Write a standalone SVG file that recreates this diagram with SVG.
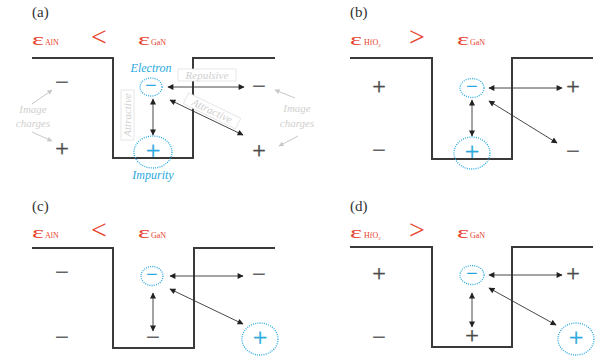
<svg xmlns="http://www.w3.org/2000/svg" width="612" height="362" viewBox="0 0 612 362">
<defs>
<marker id="ah" viewBox="0 0 10 10" refX="9" refY="5" markerWidth="7" markerHeight="6" markerUnits="userSpaceOnUse" orient="auto-start-reverse"><path d="M0,0 L10,5 L0,10 z" fill="#222"/></marker>
<marker id="gh" viewBox="0 0 10 10" refX="9" refY="5" markerWidth="6" markerHeight="5" markerUnits="userSpaceOnUse" orient="auto"><path d="M0,0 L10,5 L0,10 z" fill="#c8c8c8"/></marker>
<style>
.well{fill:none;stroke:#3a3a3a;stroke-width:2}
.arr{fill:none;stroke:#333;stroke-width:0.9;marker-start:url(#ah);marker-end:url(#ah)}
.sign{font-family:"Liberation Serif",serif;font-size:24px;fill:#4a4a4a;stroke:#4a4a4a;stroke-width:0.4;text-anchor:middle}
.csign{font-family:"Liberation Serif",serif;fill:#29a9e0;stroke:#29a9e0;stroke-width:0.3;text-anchor:middle}
.dot{fill:none;stroke:#29a9e0;stroke-width:1.3;stroke-dasharray:1 1.2}
.eps{font-family:"Liberation Serif",serif;fill:#e8412c}
.lab{font-family:"Liberation Serif",serif;font-size:15px;fill:#333}
.ghost{font-family:"Liberation Serif",serif;font-style:italic;font-size:11px;fill:#cfcfcf;text-anchor:middle}
.gbox{fill:#fff;stroke:#e2e2e2;stroke-width:0.8}
.garr{fill:none;stroke:#c8c8c8;stroke-width:1;marker-end:url(#gh)}
.cyan{font-family:"Liberation Serif",serif;font-style:italic;font-size:12px;fill:#29a9e0;text-anchor:middle}
</style>
</defs>

<!-- Panel (a) -->
<g id="panel-a">
<text class="lab" x="32" y="17">(a)</text>
<text class="eps" x="32" y="45" font-size="17" textLength="12" lengthAdjust="spacingAndGlyphs">ε</text>
<text class="eps" x="45" y="45" font-size="8">AlN</text>
<text class="eps" x="91" y="46" font-size="28">&lt;</text>
<text class="eps" x="138" y="45" font-size="17" textLength="12" lengthAdjust="spacingAndGlyphs">ε</text>
<text class="eps" x="151" y="45" font-size="8">GaN</text>
<path class="well" d="M32,58 H113 V158 H193 V58 H275"/>
</g>
<g id="a-ghost">
<rect class="gbox" x="178" y="69" width="58" height="12"/>
<text class="ghost" x="207" y="78.5" font-size="10">Repulsive</text>
<rect class="gbox" x="121" y="90" width="13" height="50"/>
<text class="ghost" x="0" y="0" font-size="10" transform="translate(131,115) rotate(-90)">Attractive</text>
<g transform="translate(212,111) rotate(26)">
<rect class="gbox" x="-29" y="-6" width="58" height="12"/>
<text class="ghost" x="0" y="3.5" font-size="10">Attractive</text>
</g>
<text class="ghost" x="33" y="113" font-size="12">Image</text>
<text class="ghost" x="33" y="127" font-size="12">charges</text>
<text class="ghost" x="297" y="112" font-size="12">Image</text>
<text class="ghost" x="297" y="127" font-size="12">charges</text>
<path class="garr" d="M32,104 L52,90"/>
<path class="garr" d="M32,132 L52,141"/>
<path class="garr" d="M295,98 L275,90"/>
<path class="garr" d="M298,136 L279,146"/>
</g>
<g id="a-electron">
<text class="cyan" x="151" y="72">Electron</text>
<ellipse class="dot" cx="151" cy="87" rx="11" ry="9"/>
<text class="csign" x="151" y="92" font-size="20">−</text>
</g>
<g id="a-impurity">
<ellipse class="dot" cx="153" cy="152" rx="19" ry="16"/>
<text class="csign" x="153" y="159" font-size="26">+</text>
<text class="cyan" x="153" y="179">Impurity</text>
</g>
<g id="a-charges">
<text class="sign" x="62" y="90">−</text>
<text class="sign" x="62" y="156">+</text>
<text class="sign" x="259" y="94">−</text>
<text class="sign" x="259" y="158">+</text>
</g>

<!-- Panel (b) -->
<g id="panel-b">
<text class="lab" x="350" y="17">(b)</text>
<text class="eps" x="350" y="45" font-size="17" textLength="12" lengthAdjust="spacingAndGlyphs">ε</text>
<text class="eps" x="364" y="45" font-size="8">HfO<tspan font-size="5" dy="1.5">2</tspan></text>
<text class="eps" x="409" y="46" font-size="28">&gt;</text>
<text class="eps" x="457" y="45" font-size="17" textLength="12" lengthAdjust="spacingAndGlyphs">ε</text>
<text class="eps" x="470" y="45" font-size="8">GaN</text>
<path class="well" d="M350,58 H432 V159 H512 V58 H593"/>
</g>
<g id="b-electron">
<ellipse class="dot" cx="472" cy="88" rx="12" ry="9.5"/>
<text class="csign" x="472" y="93" font-size="20">−</text>
</g>
<g id="b-impurity">
<ellipse class="dot" cx="472" cy="153" rx="18" ry="16"/>
<text class="csign" x="472" y="160" font-size="26">+</text>
</g>
<g id="b-charges">
<text class="sign" x="379" y="94">+</text>
<text class="sign" x="379" y="158">−</text>
<text class="sign" x="573" y="94">+</text>
<text class="sign" x="573" y="159">−</text>
</g>

<!-- Panel (c) -->
<g id="panel-c">
<text class="lab" x="32" y="211">(c)</text>
<text class="eps" x="32" y="238" font-size="17" textLength="12" lengthAdjust="spacingAndGlyphs">ε</text>
<text class="eps" x="45" y="238" font-size="8">AlN</text>
<text class="eps" x="91" y="239" font-size="28">&lt;</text>
<text class="eps" x="138" y="238" font-size="17" textLength="12" lengthAdjust="spacingAndGlyphs">ε</text>
<text class="eps" x="151" y="238" font-size="8">GaN</text>
<path class="well" d="M32,248 H113 V348 H194 V248 H275"/>
</g>
<g id="c-electron">
<ellipse class="dot" cx="152" cy="276" rx="11" ry="9.5"/>
<text class="csign" x="152" y="281" font-size="20">−</text>
</g>
<g id="c-impurity">
<ellipse class="dot" cx="260" cy="339" rx="18" ry="16"/>
<text class="csign" x="260" y="346" font-size="26">+</text>
</g>
<g id="c-charges">
<text class="sign" x="62" y="280">−</text>
<text class="sign" x="62" y="345">−</text>
<text class="sign" x="153" y="345">−</text>
<text class="sign" x="259" y="282">−</text>
</g>

<!-- Panel (d) -->
<g id="panel-d">
<text class="lab" x="350" y="211">(d)</text>
<text class="eps" x="350" y="238" font-size="17" textLength="12" lengthAdjust="spacingAndGlyphs">ε</text>
<text class="eps" x="364" y="238" font-size="8">HfO<tspan font-size="5" dy="1.5">2</tspan></text>
<text class="eps" x="409" y="239" font-size="28">&gt;</text>
<text class="eps" x="457" y="238" font-size="17" textLength="12" lengthAdjust="spacingAndGlyphs">ε</text>
<text class="eps" x="470" y="238" font-size="8">GaN</text>
<path class="well" d="M350,247 H432 V347 H512 V247 H593"/>
</g>
<g id="d-electron">
<ellipse class="dot" cx="472" cy="275" rx="12" ry="9.5"/>
<text class="csign" x="472" y="280" font-size="20">−</text>
</g>
<g id="d-impurity">
<ellipse class="dot" cx="576" cy="339" rx="18" ry="16"/>
<text class="csign" x="576" y="346" font-size="26">+</text>
</g>
<g id="d-charges">
<text class="sign" x="379" y="281">+</text>
<text class="sign" x="379" y="345">−</text>
<text class="sign" x="573" y="281">+</text>
<text class="sign" x="472" y="343">+</text>
</g>

<!-- Connectors -->
<g id="connectors">
<path class="arr" d="M168,87 L244,87"/>
<path class="arr" d="M153,99 L153,135"/>
<path class="arr" d="M170,100 L243,135"/>
<path class="arr" d="M489,88 L562,88"/>
<path class="arr" d="M472,100 L472,136"/>
<path class="arr" d="M489,101 L557,143"/>
<path class="arr" d="M170,276 L243,276"/>
<path class="arr" d="M153,293 L153,331"/>
<path class="arr" d="M170,289 L243,324"/>
<path class="arr" d="M489,275 L562,275"/>
<path class="arr" d="M472,293 L472,327"/>
<path class="arr" d="M489,288 L556,325"/>
</g>
</svg>
